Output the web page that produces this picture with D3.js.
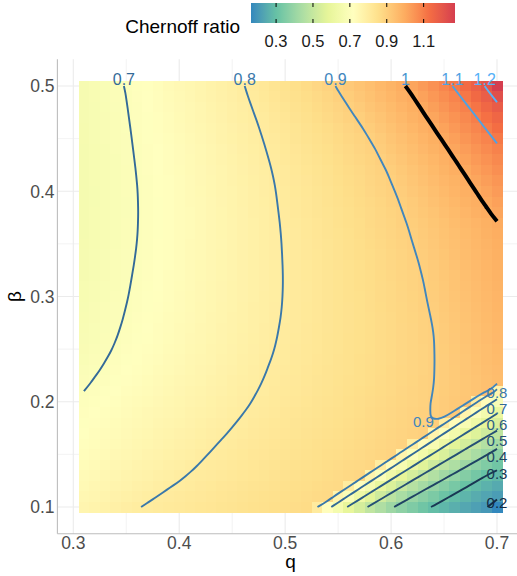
<!DOCTYPE html>
<html><head><meta charset="utf-8">
<script src="https://cdn.jsdelivr.net/npm/d3@7"></script>
<style>
body{margin:0;background:#fff}
svg{display:block}
text{font-family:"Liberation Sans",Arial,Helvetica,sans-serif}
</style>
</head><body>
<svg id="chart" width="517" height="576"></svg>
<script>
// ---------------- data ----------------
const qValues = [0.31,0.32,0.33,0.34,0.35,0.36,0.37,0.38,0.39,0.40,
                 0.41,0.42,0.43,0.44,0.45,0.46,0.47,0.48,0.49,0.50,
                 0.51,0.52,0.53,0.54,0.55,0.56,0.57,0.58,0.59,0.60,
                 0.61,0.62,0.63,0.64,0.65,0.66,0.67,0.68,0.69,0.70];
// rows listed from top (beta = 0.50) to bottom (beta = 0.10)
const betaValues = [0.50,0.49,0.48,0.47,0.46,0.45,0.44,0.43,0.42,0.41,
                    0.40,0.39,0.38,0.37,0.36,0.35,0.34,0.33,0.32,0.31,
                    0.30,0.29,0.28,0.27,0.26,0.25,0.24,0.23,0.22,0.21,
                    0.20,0.19,0.18,0.17,0.16,0.15,0.14,0.13,0.12,0.11,0.10];
// Chernoff ratio, one row per beta (same order as betaValues), one column per q
const chernoffRatio = [
[0.668,0.676,0.685,0.693,0.702,0.711,0.719,0.728,0.737,0.746,0.754,0.763,0.772,0.781,0.789,0.798,0.809,0.821,0.833,0.844,0.856,0.867,0.879,0.891,0.903,0.918,0.933,0.948,0.963,0.978,0.993,1.013,1.035,1.058,1.081,1.105,1.138,1.170,1.206,1.270],
[0.668,0.676,0.684,0.692,0.700,0.709,0.717,0.726,0.735,0.744,0.752,0.761,0.770,0.778,0.787,0.796,0.806,0.817,0.828,0.840,0.851,0.862,0.873,0.884,0.896,0.909,0.924,0.939,0.954,0.969,0.984,0.998,1.020,1.042,1.064,1.086,1.112,1.145,1.177,1.220],
[0.667,0.675,0.683,0.691,0.699,0.708,0.716,0.725,0.733,0.742,0.750,0.758,0.767,0.775,0.784,0.792,0.801,0.812,0.823,0.834,0.845,0.856,0.867,0.878,0.889,0.900,0.915,0.930,0.944,0.959,0.974,0.989,1.005,1.027,1.048,1.070,1.091,1.119,1.151,1.183],
[0.666,0.674,0.682,0.690,0.698,0.706,0.714,0.723,0.731,0.740,0.748,0.756,0.765,0.773,0.782,0.790,0.798,0.808,0.819,0.829,0.840,0.851,0.861,0.872,0.882,0.893,0.904,0.919,0.934,0.949,0.964,0.979,0.994,1.012,1.033,1.054,1.075,1.097,1.125,1.155],
[0.665,0.673,0.681,0.689,0.697,0.705,0.713,0.721,0.730,0.738,0.746,0.754,0.762,0.770,0.779,0.787,0.795,0.804,0.814,0.824,0.835,0.845,0.855,0.865,0.876,0.886,0.896,0.909,0.924,0.939,0.954,0.969,0.984,0.999,1.019,1.040,1.061,1.081,1.103,1.132],
[0.665,0.673,0.681,0.688,0.696,0.704,0.712,0.720,0.728,0.736,0.744,0.752,0.760,0.769,0.777,0.785,0.793,0.801,0.811,0.821,0.831,0.841,0.850,0.860,0.870,0.880,0.890,0.900,0.915,0.930,0.944,0.959,0.974,0.989,1.005,1.025,1.046,1.066,1.086,1.108],
[0.664,0.672,0.679,0.687,0.695,0.702,0.710,0.718,0.726,0.734,0.742,0.750,0.758,0.766,0.774,0.782,0.790,0.798,0.808,0.817,0.827,0.837,0.846,0.856,0.866,0.876,0.885,0.895,0.907,0.922,0.936,0.951,0.965,0.980,0.994,1.012,1.031,1.051,1.070,1.090],
[0.663,0.671,0.678,0.686,0.694,0.702,0.709,0.717,0.725,0.733,0.741,0.749,0.757,0.765,0.772,0.780,0.788,0.796,0.805,0.814,0.823,0.833,0.842,0.852,0.861,0.871,0.880,0.890,0.899,0.913,0.927,0.942,0.956,0.970,0.985,0.999,1.018,1.037,1.056,1.075],
[0.663,0.671,0.678,0.686,0.693,0.701,0.709,0.716,0.724,0.732,0.740,0.747,0.755,0.763,0.771,0.778,0.786,0.794,0.802,0.811,0.820,0.830,0.839,0.848,0.857,0.867,0.876,0.885,0.894,0.906,0.920,0.934,0.948,0.962,0.976,0.990,1.005,1.024,1.042,1.061],
[0.662,0.670,0.677,0.685,0.692,0.700,0.708,0.715,0.723,0.731,0.738,0.746,0.754,0.762,0.769,0.777,0.785,0.792,0.800,0.809,0.818,0.827,0.836,0.845,0.855,0.864,0.873,0.882,0.891,0.900,0.914,0.927,0.941,0.954,0.968,0.981,0.995,1.011,1.029,1.047],
[0.662,0.669,0.677,0.684,0.692,0.699,0.707,0.715,0.722,0.730,0.738,0.745,0.753,0.761,0.768,0.776,0.784,0.792,0.799,0.808,0.817,0.826,0.834,0.843,0.852,0.861,0.870,0.879,0.888,0.896,0.908,0.921,0.934,0.947,0.960,0.974,0.987,1.000,1.017,1.035],
[0.662,0.669,0.677,0.684,0.691,0.699,0.706,0.714,0.721,0.729,0.737,0.744,0.752,0.760,0.767,0.775,0.782,0.790,0.798,0.806,0.815,0.823,0.832,0.841,0.850,0.858,0.867,0.876,0.884,0.893,0.903,0.915,0.928,0.941,0.953,0.966,0.979,0.991,1.005,1.023],
[0.663,0.670,0.677,0.684,0.691,0.699,0.706,0.714,0.721,0.729,0.736,0.744,0.751,0.759,0.767,0.774,0.782,0.789,0.797,0.805,0.814,0.822,0.831,0.839,0.847,0.856,0.864,0.873,0.881,0.890,0.898,0.910,0.922,0.934,0.947,0.959,0.971,0.984,0.996,1.011],
[0.664,0.671,0.678,0.685,0.692,0.699,0.707,0.714,0.721,0.729,0.736,0.744,0.751,0.759,0.766,0.774,0.781,0.789,0.796,0.804,0.812,0.821,0.829,0.837,0.846,0.854,0.862,0.871,0.879,0.887,0.896,0.906,0.917,0.929,0.940,0.952,0.963,0.975,0.986,0.998],
[0.664,0.671,0.678,0.685,0.692,0.699,0.707,0.714,0.721,0.729,0.736,0.744,0.751,0.759,0.766,0.773,0.781,0.788,0.795,0.803,0.811,0.820,0.828,0.836,0.844,0.852,0.861,0.869,0.877,0.885,0.893,0.902,0.914,0.925,0.936,0.948,0.959,0.970,0.982,0.993],
[0.665,0.672,0.679,0.686,0.693,0.700,0.707,0.715,0.722,0.729,0.737,0.744,0.751,0.758,0.766,0.773,0.780,0.788,0.795,0.802,0.810,0.819,0.827,0.835,0.843,0.851,0.859,0.867,0.875,0.883,0.891,0.899,0.910,0.921,0.933,0.944,0.955,0.966,0.978,0.989],
[0.666,0.673,0.680,0.687,0.694,0.701,0.708,0.715,0.722,0.730,0.737,0.744,0.751,0.759,0.766,0.773,0.780,0.788,0.795,0.802,0.810,0.818,0.826,0.834,0.842,0.850,0.857,0.865,0.873,0.881,0.889,0.897,0.907,0.918,0.929,0.941,0.952,0.963,0.975,0.986],
[0.667,0.674,0.681,0.688,0.695,0.702,0.709,0.716,0.723,0.730,0.738,0.745,0.752,0.759,0.766,0.773,0.780,0.787,0.794,0.802,0.810,0.817,0.825,0.833,0.840,0.848,0.856,0.864,0.871,0.879,0.887,0.895,0.903,0.915,0.926,0.938,0.949,0.960,0.972,0.983],
[0.668,0.675,0.682,0.689,0.696,0.703,0.710,0.717,0.724,0.731,0.738,0.745,0.752,0.759,0.766,0.773,0.780,0.787,0.794,0.802,0.809,0.817,0.824,0.832,0.839,0.847,0.855,0.862,0.870,0.877,0.885,0.892,0.900,0.911,0.923,0.934,0.946,0.957,0.969,0.980],
[0.670,0.677,0.684,0.690,0.697,0.704,0.711,0.718,0.725,0.732,0.739,0.746,0.753,0.760,0.767,0.774,0.780,0.787,0.794,0.801,0.809,0.816,0.824,0.831,0.839,0.846,0.854,0.861,0.869,0.876,0.884,0.891,0.899,0.909,0.920,0.932,0.943,0.954,0.966,0.977],
[0.672,0.679,0.685,0.692,0.699,0.705,0.712,0.719,0.726,0.733,0.740,0.747,0.753,0.760,0.767,0.774,0.781,0.788,0.794,0.801,0.809,0.816,0.824,0.831,0.838,0.846,0.853,0.860,0.868,0.875,0.882,0.890,0.897,0.907,0.918,0.930,0.941,0.952,0.964,0.975],
[0.674,0.681,0.687,0.694,0.700,0.707,0.714,0.720,0.727,0.734,0.741,0.748,0.754,0.761,0.768,0.775,0.782,0.788,0.795,0.802,0.809,0.817,0.824,0.831,0.838,0.845,0.853,0.860,0.867,0.874,0.881,0.888,0.896,0.905,0.916,0.927,0.938,0.950,0.961,0.972],
[0.676,0.682,0.689,0.695,0.702,0.709,0.715,0.722,0.729,0.736,0.742,0.749,0.756,0.762,0.769,0.776,0.783,0.789,0.796,0.803,0.810,0.817,0.824,0.831,0.838,0.845,0.852,0.859,0.866,0.873,0.880,0.887,0.894,0.902,0.914,0.925,0.936,0.947,0.959,0.970],
[0.678,0.684,0.691,0.697,0.704,0.711,0.717,0.724,0.731,0.737,0.744,0.751,0.757,0.764,0.771,0.777,0.784,0.791,0.797,0.804,0.811,0.818,0.825,0.832,0.838,0.845,0.852,0.859,0.866,0.873,0.879,0.886,0.893,0.900,0.911,0.922,0.934,0.945,0.956,0.967],
[0.680,0.686,0.693,0.699,0.706,0.713,0.719,0.726,0.732,0.739,0.746,0.752,0.759,0.766,0.772,0.779,0.785,0.792,0.798,0.805,0.812,0.819,0.826,0.833,0.839,0.846,0.852,0.859,0.866,0.872,0.879,0.886,0.893,0.899,0.910,0.921,0.932,0.943,0.954,0.965],
[0.682,0.689,0.695,0.702,0.709,0.715,0.722,0.728,0.735,0.741,0.748,0.754,0.761,0.767,0.774,0.780,0.787,0.793,0.800,0.807,0.813,0.820,0.826,0.833,0.839,0.846,0.853,0.859,0.866,0.872,0.879,0.886,0.892,0.899,0.909,0.919,0.930,0.941,0.951,0.962],
[0.686,0.693,0.699,0.706,0.712,0.719,0.725,0.731,0.738,0.744,0.751,0.757,0.763,0.770,0.776,0.783,0.789,0.796,0.802,0.808,0.815,0.821,0.828,0.834,0.841,0.847,0.854,0.860,0.866,0.873,0.879,0.886,0.892,0.899,0.908,0.918,0.928,0.939,0.949,0.959],
[0.691,0.697,0.703,0.709,0.716,0.722,0.728,0.735,0.741,0.747,0.754,0.760,0.766,0.773,0.779,0.785,0.792,0.798,0.804,0.811,0.817,0.823,0.830,0.836,0.842,0.848,0.855,0.861,0.867,0.874,0.880,0.886,0.892,0.899,0.908,0.917,0.927,0.936,0.946,0.955],
[0.695,0.701,0.707,0.714,0.720,0.726,0.732,0.739,0.745,0.751,0.757,0.763,0.770,0.776,0.782,0.788,0.794,0.801,0.807,0.813,0.819,0.825,0.831,0.837,0.844,0.850,0.856,0.862,0.868,0.875,0.881,0.887,0.893,0.899,0.908,0.917,0.926,0.934,0.943,0.952],
[0.700,0.706,0.712,0.718,0.724,0.730,0.736,0.742,0.748,0.755,0.761,0.767,0.773,0.779,0.785,0.791,0.797,0.803,0.809,0.815,0.821,0.827,0.833,0.839,0.845,0.852,0.858,0.864,0.870,0.876,0.882,0.888,0.894,0.900,0.909,0.917,0.926,0.934,0.943,0.765],
[0.705,0.711,0.717,0.723,0.729,0.735,0.741,0.747,0.753,0.759,0.765,0.771,0.777,0.783,0.789,0.795,0.801,0.807,0.812,0.818,0.824,0.830,0.836,0.842,0.848,0.854,0.860,0.866,0.872,0.878,0.883,0.889,0.895,0.902,0.910,0.919,0.927,0.795,0.734,0.680],
[0.710,0.716,0.722,0.728,0.734,0.740,0.746,0.751,0.757,0.763,0.769,0.775,0.781,0.787,0.793,0.799,0.805,0.810,0.816,0.822,0.828,0.833,0.839,0.845,0.851,0.856,0.862,0.868,0.874,0.879,0.885,0.891,0.897,0.903,0.912,0.920,0.765,0.702,0.655,0.608],
[0.714,0.720,0.726,0.732,0.738,0.744,0.750,0.756,0.762,0.768,0.774,0.780,0.786,0.792,0.798,0.803,0.809,0.814,0.820,0.826,0.831,0.837,0.842,0.848,0.853,0.859,0.864,0.870,0.876,0.881,0.887,0.892,0.898,0.905,0.797,0.733,0.676,0.628,0.584,0.546],
[0.718,0.724,0.730,0.736,0.742,0.748,0.754,0.761,0.767,0.773,0.779,0.785,0.791,0.797,0.803,0.808,0.813,0.819,0.824,0.829,0.835,0.840,0.845,0.851,0.856,0.861,0.867,0.872,0.878,0.883,0.888,0.894,0.899,0.764,0.699,0.649,0.599,0.560,0.520,0.484],
[0.722,0.728,0.734,0.741,0.747,0.753,0.759,0.765,0.772,0.778,0.784,0.790,0.796,0.802,0.807,0.813,0.818,0.823,0.828,0.833,0.839,0.844,0.849,0.854,0.859,0.865,0.870,0.875,0.880,0.885,0.891,0.798,0.731,0.672,0.620,0.575,0.534,0.494,0.459,0.424],
[0.727,0.733,0.739,0.746,0.752,0.758,0.764,0.771,0.777,0.783,0.789,0.796,0.802,0.807,0.812,0.817,0.822,0.827,0.832,0.837,0.842,0.847,0.852,0.857,0.862,0.867,0.873,0.878,0.883,0.888,0.765,0.697,0.643,0.591,0.549,0.506,0.472,0.438,0.405,0.374],
[0.732,0.738,0.745,0.751,0.758,0.764,0.770,0.776,0.783,0.789,0.796,0.801,0.806,0.811,0.816,0.821,0.826,0.831,0.836,0.841,0.846,0.851,0.856,0.861,0.866,0.871,0.876,0.881,0.800,0.729,0.667,0.611,0.565,0.520,0.481,0.447,0.412,0.381,0.351,0.322],
[0.738,0.744,0.751,0.757,0.764,0.770,0.776,0.783,0.789,0.796,0.801,0.806,0.811,0.816,0.821,0.826,0.830,0.835,0.840,0.845,0.850,0.855,0.859,0.864,0.869,0.874,0.879,0.764,0.694,0.636,0.582,0.536,0.492,0.456,0.421,0.387,0.358,0.329,0.299,0.279],
[0.744,0.751,0.757,0.764,0.771,0.778,0.784,0.791,0.798,0.803,0.808,0.813,0.817,0.822,0.827,0.831,0.836,0.840,0.845,0.850,0.854,0.859,0.864,0.868,0.873,0.801,0.727,0.662,0.601,0.553,0.504,0.466,0.429,0.394,0.365,0.335,0.306,0.285,0.266,0.246],
[0.751,0.758,0.765,0.773,0.780,0.787,0.794,0.801,0.805,0.810,0.814,0.819,0.823,0.828,0.832,0.837,0.841,0.846,0.850,0.854,0.859,0.863,0.868,0.872,0.765,0.690,0.627,0.571,0.521,0.477,0.439,0.400,0.371,0.342,0.313,0.290,0.271,0.252,0.234,0.215],
[0.760,0.768,0.775,0.783,0.791,0.798,0.803,0.808,0.812,0.816,0.820,0.825,0.829,0.833,0.837,0.842,0.846,0.850,0.855,0.859,0.863,0.867,0.804,0.725,0.655,0.591,0.538,0.489,0.449,0.409,0.378,0.349,0.320,0.294,0.276,0.258,0.240,0.222,0.204,0.164]
];
const contourLevels = [0.2,0.3,0.4,0.5,0.6,0.7,0.8,0.9,1.0,1.1,1.2];
const highlightLevel = [1.0];
const xTicks = [0.3,0.4,0.5,0.6,0.7];
const yTicks = [0.1,0.2,0.3,0.4,0.5];
const legendTicks = [0.3,0.5,0.7,0.9,1.1];
const spectral = ["#3288BD","#66C2A5","#ABDDA4","#E6F598","#FFFFBF","#FEE08B","#FDAE61","#F46D43","#D53E4F"];

// ---------------- scales ----------------
const svg = d3.select("#chart");
const halfQ = (qValues[1]-qValues[0])/2, halfB = (betaValues[0]-betaValues[1])/2;
const qExt = [d3.min(qValues)-halfQ, d3.max(qValues)+halfQ];
const bExt = [d3.min(betaValues)-halfB, d3.max(betaValues)+halfB];
const qPad = (qExt[1]-qExt[0])*0.05, bPad = (bExt[1]-bExt[0])*0.05;
const x = d3.scaleLinear().domain([qExt[0]-qPad, qExt[1]+qPad]).range([57.4, 523.5]);
const y = d3.scaleLinear().domain([bExt[0]-bPad, bExt[1]+bPad]).range([533.8, 59.2]);

const flat = chernoffRatio.flat();
const vExt = d3.extent(flat);
const fill = d3.scaleLinear()
  .domain(spectral.map((c,i)=> vExt[0] + i*(vExt[1]-vExt[0])/(spectral.length-1)))
  .range(spectral).interpolate(d3.interpolateLab);
const lineCol = d3.scaleLinear().domain(d3.extent(contourLevels))
  .range(["#132B43","#56B1F7"]).interpolate(d3.interpolateLab);

// ---------------- grid ----------------
const grid = svg.append("g");
const minorQ = d3.range(xTicks.length-1).map(i => (xTicks[i]+xTicks[i+1])/2);
const minorB = d3.range(yTicks.length-1).map(i => (yTicks[i]+yTicks[i+1])/2);
grid.selectAll(".mx").data(minorQ).join("line")
  .attr("x1",d=>x(d)).attr("x2",d=>x(d)).attr("y1",y.range()[0]).attr("y2",y.range()[1])
  .attr("stroke","#ebebeb").attr("stroke-width",0.6);
grid.selectAll(".my").data(minorB).join("line")
  .attr("y1",d=>y(d)).attr("y2",d=>y(d)).attr("x1",x.range()[0]).attr("x2",x.range()[1])
  .attr("stroke","#ebebeb").attr("stroke-width",0.6);
grid.selectAll(".gx").data(xTicks).join("line")
  .attr("x1",d=>x(d)).attr("x2",d=>x(d)).attr("y1",y.range()[0]).attr("y2",y.range()[1])
  .attr("stroke","#ebebeb").attr("stroke-width",1.1);
grid.selectAll(".gy").data(yTicks).join("line")
  .attr("y1",d=>y(d)).attr("y2",d=>y(d)).attr("x1",x.range()[0]).attr("x2",x.range()[1])
  .attr("stroke","#ebebeb").attr("stroke-width",1.1);

// ---------------- raster ----------------
const cells = [];
chernoffRatio.forEach((row,j)=>row.forEach((v,i)=>cells.push({q:qValues[i], b:betaValues[j], v})));
svg.append("g").attr("shape-rendering","crispEdges")
  .selectAll("rect").data(cells).join("rect")
  .attr("x", d=>x(d.q-halfQ)).attr("y", d=>y(d.b+halfB))
  .attr("width", d=>x(d.q+halfQ)-x(d.q-halfQ)+0.4)
  .attr("height", d=>y(d.b-halfB)-y(d.b+halfB)+0.4)
  .attr("fill", d=>fill(d.v));

// ---------------- contours ----------------
const nx = qValues.length, ny = betaValues.length;
const gq = d3.scaleLinear().domain([0.5, nx-0.5]).range([qValues[0], qValues[nx-1]]);
const gb = d3.scaleLinear().domain([0.5, ny-0.5]).range([betaValues[0], betaValues[ny-1]]);
const isB = p => p[0]===0 || p[0]===nx || p[1]===0 || p[1]===ny;
function pieces(ring){
  const pts = ring.slice(0,-1), n = pts.length;
  const s = pts.findIndex(isB);
  if (s < 0) return [{pts: ring, closed:true}];
  const out=[]; let cur=[];
  for (let k=1;k<=n;k++){
    const p = pts[(s+k)%n];
    if (isB(p)) { if (cur.length>1) out.push({pts:cur,closed:false}); cur=[]; }
    else cur.push(p);
  }
  if (cur.length>1) out.push({pts:cur,closed:false});
  return out;
}
// light moving-average smoothing of the marching-squares polyline (ends fixed)
function smoothPts(pts, r, iters){
  let P = pts;
  for (let it=0; it<iters; it++){
    const n = P.length;
    P = P.map((p,i) => {
      const k = Math.min(r, i, n-1-i);
      if (k === 0) return p;
      let sx=0, sy=0;
      for (let j=i-k;j<=i+k;j++){ sx+=P[j][0]; sy+=P[j][1]; }
      return [sx/(2*k+1), sy/(2*k+1)];
    });
  }
  return P;
}
function linesFor(levels){
  const cs = d3.contours().size([nx,ny]).thresholds(levels)(flat);
  const res = [];
  cs.forEach(c => c.coordinates.forEach(poly => poly.forEach(ring => {
    pieces(ring).forEach(pc => {
      const px = pc.pts.map(p => [x(gq(p[0])), y(gb(p[1]))]);
      res.push({level: Math.round(c.value*10)/10, closed: pc.closed,
                pts: pc.closed ? px : smoothPts(px, 2, 1)});
    });
  })));
  return res;
}
const lineOpen = d3.line().curve(d3.curveBasis);
const lineClosed = d3.line().curve(d3.curveBasisClosed);
const draw = d => (d.closed ? lineClosed : lineOpen)(d.pts);
const blue = linesFor(contourLevels);
svg.append("g").selectAll("path").data(blue).join("path")
  .attr("d", draw).attr("fill","none")
  .attr("stroke", d=>lineCol(d.level)).attr("stroke-width",1.9)
  .attr("stroke-linejoin","round");

// labels: top-most point of every piece; plus the lowest point of pieces that turn back inside the panel
const topY = y(d3.max(betaValues)), botY = y(d3.min(betaValues));
const leftX = x(d3.min(qValues)), rightX = x(d3.max(qValues));
const onEdge = p => Math.abs(p[1]-topY)<1.5 || Math.abs(p[1]-botY)<1.5 || Math.abs(p[0]-leftX)<1.5 || Math.abs(p[0]-rightX)<1.5;
const topLabels = [], sideLabels = [], turnLabels = [];
blue.forEach(d => {
  const top = d3.least(d.pts, p=>p[1]);
  if (Math.abs(top[1]-topY) < 1.5) topLabels.push({level:d.level, x:top[0], y:top[1]});
  else sideLabels.push({level:d.level, x:top[0], y:top[1]+3});
  const bot = d3.greatest(d.pts, p=>p[1]);
  if (Math.abs(top[1]-topY) < 1.5 && !onEdge(bot)) turnLabels.push({level:d.level, x:bot[0]-15, y:bot[1]+3});
});
sideLabels.sort((a,b)=>a.y-b.y);
for (let i=1;i<sideLabels.length;i++) sideLabels[i].y = Math.max(sideLabels[i].y, sideLabels[i-1].y+16);
const lab = svg.append("g").attr("text-anchor","middle");
topLabels.forEach(l => lab.append("text").attr("x",l.x).attr("y",l.y).attr("dy","-0.05em")
  .attr("font-size","16px").attr("fill",lineCol(l.level)).text(String(l.level)));
sideLabels.concat(turnLabels).forEach(l => lab.append("text").attr("x",l.x).attr("y",l.y).attr("dy","0.36em")
  .attr("font-size","15px").attr("fill",lineCol(l.level)).text(String(l.level)));

const black = linesFor(highlightLevel);
svg.append("g").selectAll("path").data(black).join("path")
  .attr("d", draw).attr("fill","none")
  .attr("stroke","#000").attr("stroke-width",4);

// ---------------- axes ----------------
svg.append("line").attr("x1",x.range()[0]).attr("x2",x.range()[0])
  .attr("y1",y.range()[0]).attr("y2",y.range()[1]).attr("stroke","#bdbdbd").attr("stroke-width",1.1);
svg.append("line").attr("x1",x.range()[0]).attr("x2",x.range()[1])
  .attr("y1",y.range()[0]).attr("y2",y.range()[0]).attr("stroke","#bdbdbd").attr("stroke-width",1.1);
svg.append("g").selectAll("text").data(xTicks).join("text")
  .attr("x",d=>x(d)).attr("y",549).attr("text-anchor","middle")
  .attr("font-size","17.5px").attr("fill","#4d4d4d").text(d=>d3.format(".1f")(d));
svg.append("g").selectAll("text").data(yTicks).join("text")
  .attr("x",54.5).attr("y",d=>y(d)).attr("dy","0.36em").attr("text-anchor","end")
  .attr("font-size","17.5px").attr("fill","#4d4d4d").text(d=>d3.format(".1f")(d));
svg.append("text").attr("x",(x.range()[0]+x.range()[1])/2).attr("y",568)
  .attr("text-anchor","middle").attr("font-size","19px").attr("fill","#000").text("q");
svg.append("text").attr("transform",`translate(21,${(y.range()[0]+y.range()[1])/2}) rotate(-90)`)
  .attr("text-anchor","middle").attr("font-size","19px").attr("fill","#000").text("β");

// ---------------- legend ----------------
const lx = d3.scaleLinear().domain(vExt).range([251, 455]);
const defs = svg.append("defs");
const grad = defs.append("linearGradient").attr("id","lg").attr("x1","0%").attr("x2","100%");
d3.range(0,1.0001,0.02).forEach(t => grad.append("stop")
  .attr("offset",(t*100)+"%").attr("stop-color", fill(vExt[0]+t*(vExt[1]-vExt[0]))));
svg.append("rect").attr("x",lx.range()[0]).attr("y",3).attr("width",lx.range()[1]-lx.range()[0])
  .attr("height",20).attr("fill","url(#lg)");
const lt = svg.append("g");
legendTicks.forEach(t => {
  lt.append("line").attr("x1",lx(t)).attr("x2",lx(t)).attr("y1",3).attr("y2",7).attr("stroke","#000").attr("stroke-width",1);
  lt.append("line").attr("x1",lx(t)).attr("x2",lx(t)).attr("y1",19).attr("y2",23).attr("stroke","#000").attr("stroke-width",1);
  lt.append("text").attr("x",lx(t)).attr("y",47).attr("text-anchor","middle")
    .attr("font-size","16.5px").attr("fill","#1a1a1a").text(d3.format(".1f")(t));
});
svg.append("text").attr("x",240).attr("y",33).attr("text-anchor","end")
  .attr("font-size","19px").attr("fill","#000").text("Chernoff ratio");
</script>
</body></html>
